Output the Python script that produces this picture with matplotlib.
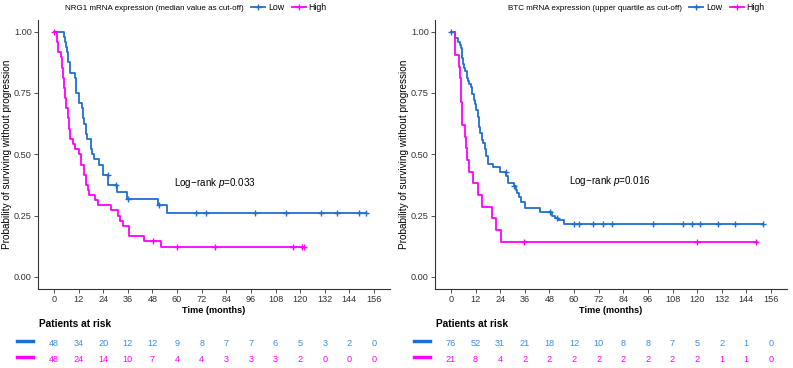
import numpy as np
import matplotlib.pyplot as plt
from matplotlib import transforms
from matplotlib.lines import Line2D

plt.rcParams['font.family'] = ['Liberation Sans', 'DejaVu Sans']
plt.rcParams['mathtext.fontset'] = 'custom'
plt.rcParams['mathtext.it'] = 'Liberation Sans:italic'
plt.rcParams['mathtext.rm'] = 'Liberation Sans'

BLUE = '#1f6fd1'
MAGENTA = '#ff00ff'
RISK_BLUE = '#3a8ee6'

# --- NRG1 panel (median cut-off) ---
nrg1_low_t = [0, 4.8, 5.3, 5.8, 6.3, 6.8, 7.8, 10.0, 10.5, 10.9, 12.3, 13.8, 14.2, 14.6,
              15.5, 16.3, 17.8, 18.5, 19.6, 22.0, 24.0, 26.5, 30.7, 35.5, 50.7, 55.0]
nrg1_low_s = [1.000, 0.979, 0.958, 0.938, 0.917, 0.875, 0.833, 0.813, 0.792, 0.750, 0.708,
              0.688, 0.646, 0.625, 0.583, 0.563, 0.521, 0.500, 0.479, 0.458, 0.417, 0.375,
              0.344, 0.318, 0.292, 0.261]
nrg1_low_end = 152
nrg1_low_cens = [26.2, 30.3, 36.0, 51.3, 69.1, 74.0, 98.0, 113.0, 130.0, 138.0, 148.6, 152.0]

nrg1_high_t = [0, 1.5, 2.0, 3.3, 3.8, 4.3, 4.9, 5.5, 6.0, 6.6, 7.3, 8.0, 9.3, 10.4, 12.0,
               13.2, 14.5, 15.6, 16.5, 17.3, 20.0, 21.3, 27.8, 31.0, 32.4, 33.5, 36.8, 43.8, 52.2]
nrg1_high_s = [1.000, 0.958, 0.917, 0.896, 0.854, 0.813, 0.771, 0.729, 0.688, 0.646, 0.604,
               0.563, 0.542, 0.521, 0.500, 0.458, 0.417, 0.375, 0.354, 0.333, 0.313, 0.292,
               0.271, 0.250, 0.229, 0.208, 0.167, 0.146, 0.122]
nrg1_high_end = 122
nrg1_high_cens = [0.0, 48.5, 59.8, 78.7, 116.7, 120.8, 121.8]

nrg1_risk_low = [48, 34, 20, 12, 12, 9, 8, 7, 7, 6, 5, 3, 2, 0]
nrg1_risk_high = [48, 24, 14, 10, 7, 4, 4, 3, 3, 3, 2, 0, 0, 0]

# --- BTC panel (upper quartile cut-off) ---
btc_low_t = [0, 2.0, 3.6, 4.2, 4.7, 5.2, 5.6, 6.0, 6.5, 7.0, 7.9, 8.5, 9.0, 9.6, 10.2, 11.0,
             11.8, 12.4, 13.0, 13.6, 14.3, 15.0, 15.6, 16.4, 17.2, 17.8, 18.2, 20.4, 24.0,
             27.0, 27.8, 30.6, 31.5, 32.2, 33.3, 34.3, 36.2, 43.5, 49.2, 50.5, 52.1, 54.9]
btc_low_s = [1.000, 0.973, 0.960, 0.947, 0.933, 0.920, 0.893, 0.867, 0.853, 0.840, 0.813,
             0.800, 0.787, 0.773, 0.747, 0.720, 0.707, 0.680, 0.653, 0.613, 0.587, 0.560,
             0.547, 0.520, 0.493, 0.475, 0.460, 0.449, 0.428, 0.410, 0.384, 0.370, 0.356,
             0.341, 0.326, 0.306, 0.279, 0.265, 0.250, 0.241, 0.233, 0.217]
btc_low_end = 152
btc_low_cens = [0.0, 26.8, 30.6, 48.4, 51.8, 59.8, 62.2, 69.1, 74.3, 78.6, 98.3, 113.2,
                117.3, 121.3, 130.4, 138.3, 152.1]

btc_high_t = [0, 2.0, 3.9, 4.3, 4.7, 5.0, 5.3, 6.6, 7.5, 8.0, 8.9, 10.5, 13.0, 15.0, 20.2,
              21.8, 24.6]
btc_high_s = [1.000, 0.905, 0.857, 0.810, 0.762, 0.714, 0.619, 0.571, 0.524, 0.476, 0.429,
              0.381, 0.333, 0.286, 0.238, 0.190, 0.143]
btc_high_end = 149
btc_high_cens = [35.8, 120.0, 148.9]

btc_risk_low = [76, 52, 31, 21, 18, 12, 10, 8, 8, 7, 5, 2, 1, 0]
btc_risk_high = [21, 8, 4, 2, 2, 2, 2, 2, 2, 2, 2, 1, 1, 0]

time_ticks = list(range(0, 157, 12))
W, H = 793, 368


def surv_at(ts, ss, t):
    i = np.searchsorted(ts, t, side='right') - 1
    return ss[i]


def draw_curve(ax, ts, ss, end, cens, color):
    ts = np.array(ts + [end])
    ss = np.array(ss + [ss[-1]])
    ax.step(ts, ss, where='post', color=color, lw=1.3, zorder=3)
    cy = [surv_at(ts, ss, c) for c in cens]
    ax.plot(cens, cy, ls='none', marker='+', ms=5, mew=1.0, color=color, zorder=4)


def panel(left_px, title, title_end_px, low, high, risk_low, risk_high, pval, ptxt_t, ptxt_s):
    ax = fig.add_axes([left_px / W, 1 - 289 / H, 352 / W, 269.5 / H])
    draw_curve(ax, *low, BLUE)
    draw_curve(ax, *high, MAGENTA)
    ax.set_xlim(-7.8, 163.8)
    ax.set_ylim(-0.05, 1.05)
    ax.set_xticks(time_ticks)
    ax.set_yticks([0, 0.25, 0.5, 0.75, 1.0])
    ax.set_yticklabels(['0.00', '0.25', '0.50', '0.75', '1.00'])
    ax.tick_params(labelsize=6.6, colors='#333333', length=3, width=0.6, pad=1.5)
    for s in ['top', 'right']:
        ax.spines[s].set_visible(False)
    for s in ['left', 'bottom']:
        ax.spines[s].set_linewidth(0.8)
        ax.spines[s].set_color('#333333')
    ax.set_xlabel('Time (months)', fontsize=6.6, fontweight='bold', labelpad=1)
    ax.set_ylabel('Probability of surviving without progression', fontsize=7.2, labelpad=1)
    ax.text(ptxt_t, ptxt_s, 'Log\u2212rank $p$=' + pval, fontsize=7.1, va='center', ha='left')

    # title + legend on top
    fig.text(title_end_px / W, 1 - 8 / H, title, fontsize=5.8, ha='right', va='center')
    handles = [Line2D([], [], color=BLUE, lw=1.3, marker='+', ms=5),
               Line2D([], [], color=MAGENTA, lw=1.3, marker='+', ms=5)]
    fig.legend(handles, ['Low', 'High'], loc='center left', ncol=2, frameon=False,
               bbox_to_anchor=((title_end_px + 3) / W, 1 - 7.5 / H), fontsize=6.3,
               handlelength=1.6, handletextpad=0.3, columnspacing=0.9, borderpad=0)

    # risk table
    tr = transforms.blended_transform_factory(ax.transData, fig.transFigure)
    fig.text((left_px + 1) / W, 1 - 324 / H, 'Patients at risk', fontsize=7.3,
             fontweight='bold', va='center', ha='left')
    for t, n in zip(time_ticks, risk_low):
        ax.text(t, 1 - 343 / H, str(n), transform=tr, fontsize=6.6, color=RISK_BLUE,
                ha='center', va='center')
    for t, n in zip(time_ticks, risk_high):
        ax.text(t, 1 - 360 / H, str(n), transform=tr, fontsize=6.6, color=MAGENTA,
                ha='center', va='center')
    lx = [(left_px - 21) / W, (left_px - 5) / W]
    fig.add_artist(Line2D(lx, [1 - 341 / H] * 2, color=BLUE, lw=2.5))
    fig.add_artist(Line2D(lx, [1 - 357 / H] * 2, color=MAGENTA, lw=2.5))
    return ax


fig = plt.figure(figsize=(W / 100, H / 100), dpi=100)

panel(38, 'NRG1 mRNA expression (median value as cut-off)', 244,
      (nrg1_low_t, nrg1_low_s, nrg1_low_end, nrg1_low_cens),
      (nrg1_high_t, nrg1_high_s, nrg1_high_end, nrg1_high_cens),
      nrg1_risk_low, nrg1_risk_high, '0.033', 58.6, 0.382)

panel(435, 'BTC mRNA expression (upper quartile as cut-off)', 682,
      (btc_low_t, btc_low_s, btc_low_end, btc_low_cens),
      (btc_high_t, btc_high_s, btc_high_end, btc_high_cens),
      btc_risk_low, btc_risk_high, '0.016', 57.6, 0.39)

fig.savefig('out.png', dpi=100)
